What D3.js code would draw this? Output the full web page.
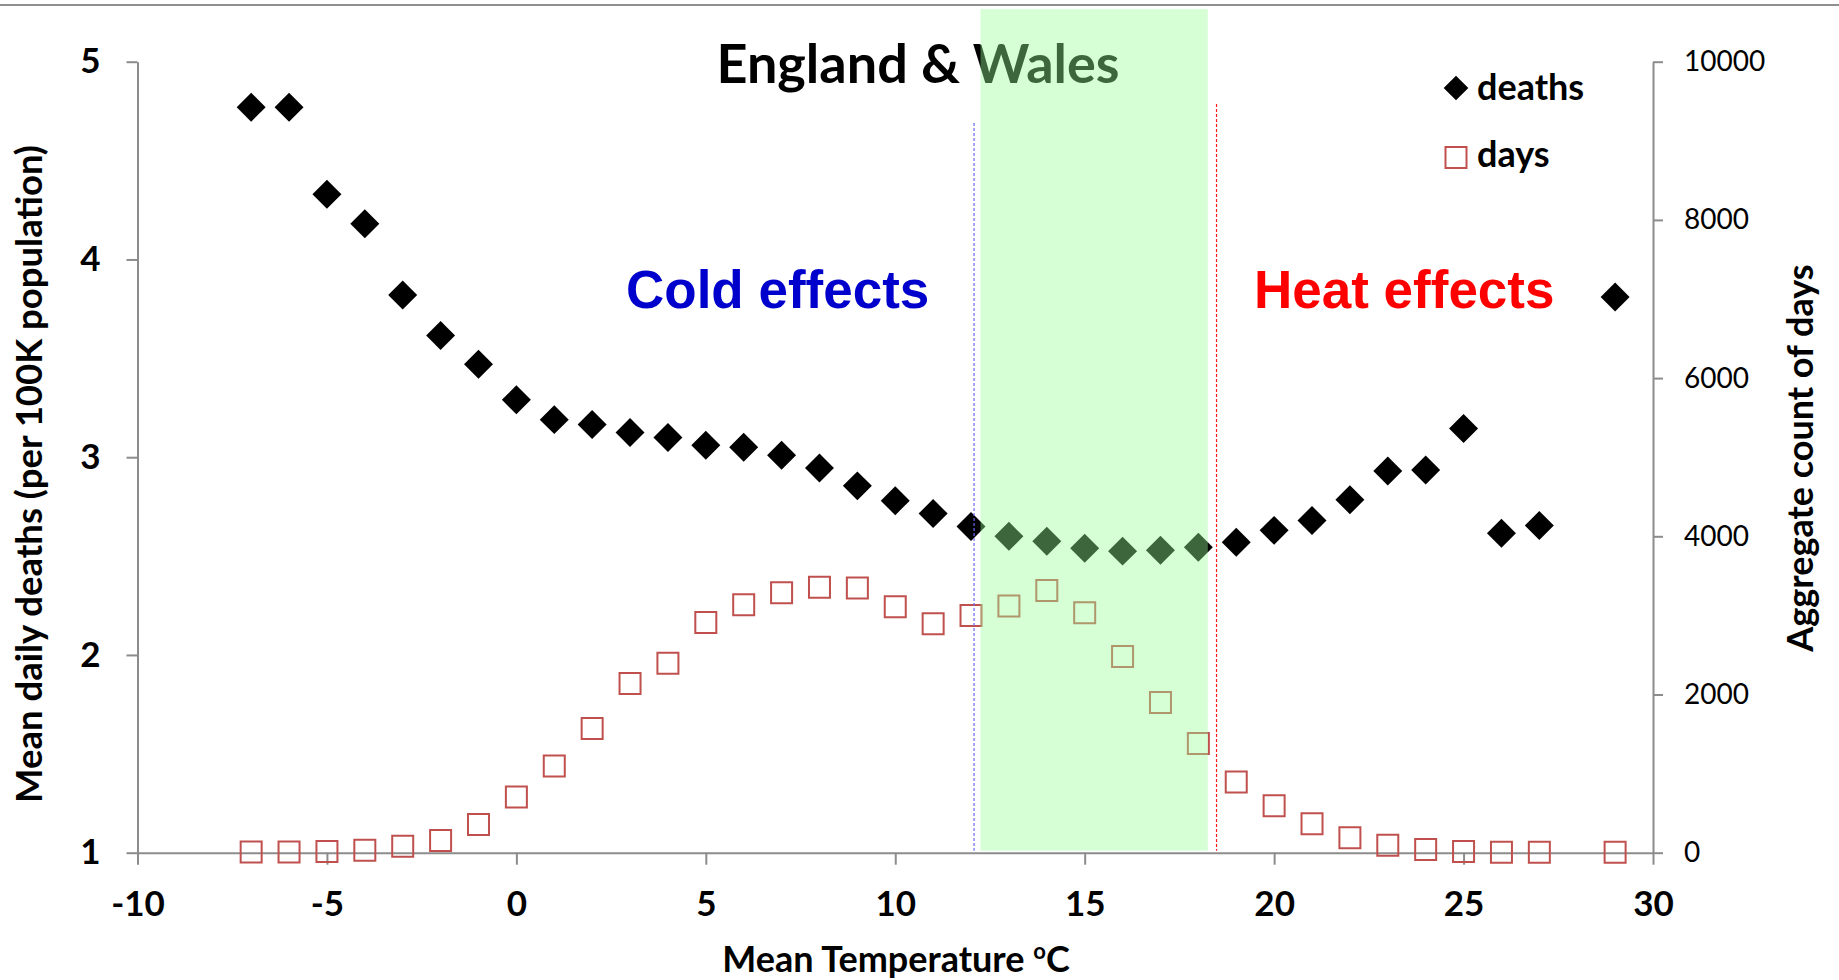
<!DOCTYPE html>
<meta charset="utf-8">
<html lang="en">
<head>
<title>England & Wales - deaths by temperature</title>
<style>
  body { margin: 0; background: #fff; }
  .lbl { font-family: Lato, sans-serif; font-weight: bold; }
  .big { font-family: "Liberation Sans", Arial, sans-serif; font-weight: bold; }
</style>
</head>
<body>
<div id="chart"></div>

<script src="https://d3js.org/d3.v7.min.js"></script>
<script>

// mean temperature bins (degC)
var temps  = [-7, -6, -5, -4, -3, -2, -1, 0, 1, 2, 3, 4, 5, 6, 7, 8, 9, 10, 11, 12,
              13, 14, 15, 16, 17, 18, 19, 20, 21, 22, 23, 24, 25, 26, 27, 29];
// mean daily deaths per 100K population
var deaths = [4.77, 4.77, 4.33, 4.18, 3.82, 3.615, 3.47, 3.29, 3.19, 3.165, 3.125, 3.10,
              3.06, 3.05, 3.01, 2.945, 2.855, 2.78, 2.715, 2.65, 2.60, 2.575, 2.54, 2.525,
              2.53, 2.545, 2.57, 2.63, 2.68, 2.785, 2.93, 2.935, 3.145, 2.615, 2.655, 3.81];
// aggregate count of days
var days   = [10, 10, 15, 30, 80, 155, 355, 705, 1095, 1570, 2140, 2395, 2910, 3135, 3285,
              3355, 3345, 3110, 2895, 3000, 3120, 3315, 3035, 2480, 1900, 1380, 895, 595,
              365, 190, 95, 40, 15, 5, 5, 5];

var xTicks     = [-10, -5, 0, 5, 10, 15, 20, 25, 30];
var leftTicks  = [1, 2, 3, 4, 5];
var rightTicks = [0, 2000, 4000, 6000, 8000, 10000];

// comfort band and the two threshold lines (in data units)
var band      = [12.25, 18.25];
var coldLine  = 12.08;
var heatLine  = 18.48;

var W = 1839, H = 980;
var svg = d3.select("#chart").append("svg")
    .attr("width", W).attr("height", H);

var x  = d3.scaleLinear().domain([-10, 30]).range([137.5, 1653]);
var yL = d3.scaleLinear().domain([1, 5]).range([852.7, 61.7]);
var yR = d3.scaleLinear().domain([0, 10000]).range([852.7, 61.7]);

var grey = "#8c8c8c";
var plain = function (d) { return String(d); };   // hyphen minus, like the original

// top frame line
svg.append("line")
    .attr("x1", 0).attr("x2", W).attr("y1", 5).attr("y2", 5)
    .attr("stroke", "#8f8f8f").attr("stroke-width", 2);

// axes
var gx = svg.append("g").attr("transform", "translate(0," + yL(1) + ")")
    .call(d3.axisBottom(x).tickValues(xTicks).tickSize(12).tickSizeOuter(0).tickPadding(26)
        .tickFormat(plain));
var gl = svg.append("g").attr("transform", "translate(" + x(-10) + ",0)")
    .call(d3.axisLeft(yL).tickValues(leftTicks).tickSize(11).tickSizeOuter(0).tickPadding(26)
        .tickFormat(plain));
var gr = svg.append("g").attr("transform", "translate(" + x(30) + ",0)")
    .call(d3.axisRight(yR).tickValues(rightTicks).tickSize(10).tickSizeOuter(0).tickPadding(21)
        .tickFormat(plain));

[gx, gl, gr].forEach(function (g) {
    g.select(".domain").attr("stroke", grey).attr("stroke-width", 2);
    g.selectAll(".tick line").attr("stroke", grey).attr("stroke-width", 2);
    g.selectAll("text").attr("fill", "#000").attr("font-family", "Lato, sans-serif");
});
gx.selectAll("text").attr("font-size", 35).attr("font-weight", "bold");
gl.selectAll("text").attr("font-size", 35).attr("font-weight", "bold");
gr.selectAll("text").attr("font-size", 28);

// days markers (open squares)
var sq = d3.symbol().type(d3.symbolSquare).size(441);
svg.append("g").selectAll("path")
    .data(temps)
    .enter().append("path")
    .attr("d", sq)
    .attr("transform", function (d, i) { return "translate(" + x(d) + "," + yR(days[i]) + ")"; })
    .attr("fill", "none")
    .attr("stroke", "#c0504d")
    .attr("stroke-width", 2);

// deaths markers (filled diamonds)
var dia = d3.symbol().type(d3.symbolSquare).size(420);
svg.append("g").selectAll("path")
    .data(temps)
    .enter().append("path")
    .attr("d", dia)
    .attr("transform", function (d, i) { return "translate(" + x(d) + "," + yL(deaths[i]) + ")rotate(45)"; })
    .attr("fill", "#000");

// threshold lines
svg.append("line")
    .attr("x1", x(coldLine)).attr("x2", x(coldLine))
    .attr("y1", yL(4.69)).attr("y2", yL(1.01))
    .attr("stroke", "#6b6bf0").attr("stroke-width", 1.2).attr("stroke-dasharray", "3,2");
svg.append("line")
    .attr("x1", x(heatLine)).attr("x2", x(heatLine))
    .attr("y1", yL(4.786)).attr("y2", yL(1.01))
    .attr("stroke", "#ff1a1a").attr("stroke-width", 1.2).attr("stroke-dasharray", "3,2");

// title and annotations
svg.append("text").attr("class", "lbl")
    .attr("x", 918).attr("y", 83).attr("text-anchor", "middle")
    .attr("font-size", 54).text("England & Wales");

svg.append("text").attr("class", "big")
    .attr("x", 626).attr("y", 308).attr("font-size", 53).attr("fill", "#0000cc")
    .text("Cold effects");
svg.append("text").attr("class", "big")
    .attr("x", 1254).attr("y", 308).attr("font-size", 53).attr("fill", "#ff0000")
    .text("Heat effects");

// legend
svg.append("path").attr("d", dia)
    .attr("fill", "#000")
    .attr("transform", "translate(1456,88)rotate(45)scale(0.85)");
svg.append("text").attr("class", "lbl").attr("x", 1477).attr("y", 100)
    .attr("font-size", 36).text("deaths");
svg.append("path").attr("d", sq)
    .attr("transform", "translate(1456,157.5)")
    .attr("fill", "none").attr("stroke", "#c0504d").attr("stroke-width", 2);
svg.append("text").attr("class", "lbl").attr("x", 1477).attr("y", 167)
    .attr("font-size", 36).text("days");

// axis titles
var xt = svg.append("text").attr("class", "lbl")
    .attr("x", 896).attr("y", 972).attr("text-anchor", "middle").attr("font-size", 36);
xt.append("tspan").text("Mean Temperature ");
xt.append("tspan").attr("font-size", 22).attr("dy", -13).text("o");
xt.append("tspan").attr("dy", 13).text("C");

svg.append("text").attr("class", "lbl")
    .attr("transform", "translate(42,474)rotate(-90)")
    .attr("text-anchor", "middle").attr("font-size", 36.5)
    .text("Mean daily deaths (per 100K population)");
svg.append("text").attr("class", "lbl")
    .attr("transform", "translate(1813,458)rotate(-90)")
    .attr("text-anchor", "middle").attr("font-size", 36)
    .text("Aggregate count of days");

// translucent green comfort band drawn over everything
svg.append("rect")
    .attr("x", x(band[0])).attr("width", x(band[1]) - x(band[0]))
    .attr("y", 9).attr("height", yL(1.01) - 9)
    .attr("fill", "#99ff99").attr("fill-opacity", 0.4);

</script>
</body>
</html>
